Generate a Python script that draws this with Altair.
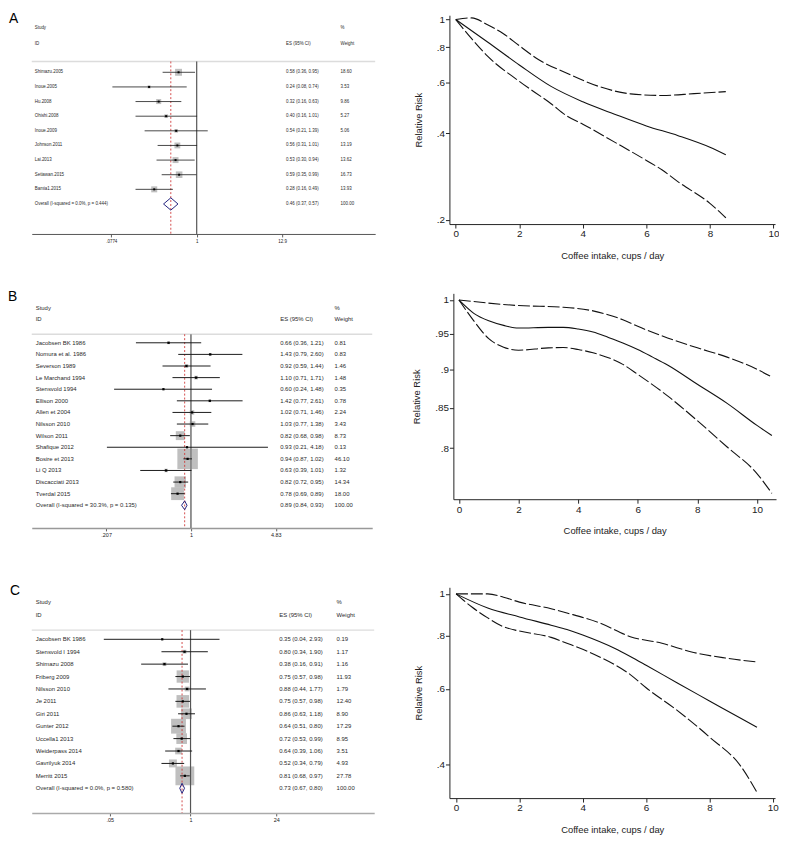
import altair as alt
import pandas as pd

FONT = "Liberation Sans"

# ---------------- Panel A : forest plot ----------------
A_STUDY = ["Shimazu.2005", "Inoue.2005", "Hu.2008", "Ohishi.2008", "Inoue.2009",
           "Johnson.2011", "Lai.2013", "Setiawan.2015", "Bamia1.2015"]
A_ES = [0.58, 0.24, 0.32, 0.40, 0.54, 0.56, 0.53, 0.59, 0.28]
A_LO = [0.36, 0.08, 0.16, 0.16, 0.21, 0.31, 0.30, 0.35, 0.16]
A_HI = [0.95, 0.74, 0.63, 1.01, 1.39, 1.01, 0.94, 0.99, 0.49]
A_WT = [18.60, 3.53, 9.86, 5.27, 5.06, 13.19, 13.62, 16.73, 13.93]
A_OVERALL = [0.46, 0.37, 0.57, 100.00]
A_OVERALL_LABEL = "Overall  (I-squared = 0.0%, p = 0.444)"
A_TICKS = [0.0774, 1, 12.9]

# ---------------- Panel B : forest plot ----------------
B_STUDY = ["Jacobsen BK 1986", "Nomura et al. 1986", "Severson 1989", "Le Marchand 1994",
           "Stensvold 1994", "Ellison 2000", "Allen et 2004", "Nilsson 2010", "Wilson 2011",
           "Shafique 2012", "Bosire et 2013", "Li Q 2013", "Discacciati 2013", "Tverdal 2015"]
B_ES = [0.66, 1.43, 0.92, 1.10, 0.60, 1.42, 1.02, 1.03, 0.82, 0.93, 0.94, 0.63, 0.82, 0.78]
B_LO = [0.36, 0.79, 0.59, 0.71, 0.24, 0.77, 0.71, 0.77, 0.68, 0.21, 0.87, 0.39, 0.72, 0.69]
B_HI = [1.21, 2.60, 1.44, 1.71, 1.48, 2.61, 1.46, 1.38, 0.98, 4.18, 1.02, 1.01, 0.95, 0.89]
B_WT = [0.81, 0.83, 1.46, 1.48, 0.35, 0.78, 2.24, 3.43, 8.73, 0.13, 46.10, 1.32, 14.34, 18.00]
B_OVERALL = [0.89, 0.84, 0.93, 100.00]
B_OVERALL_LABEL = "Overall  (I-squared = 30.3%, p = 0.135)"
B_TICKS = [0.207, 1, 4.83]

# ---------------- Panel C : forest plot ----------------
C_STUDY = ["Jacobsen BK 1986", "Stensvold I 1994", "Shimazu 2008", "Friberg 2009",
           "Nilsson 2010", "Je 2011", "Giri 2011", "Gunter 2012", "Uccella1 2013",
           "Weiderpass 2014", "Gavrilyuk 2014", "Merritt 2015"]
C_ES = [0.35, 0.80, 0.38, 0.75, 0.88, 0.75, 0.86, 0.64, 0.72, 0.64, 0.52, 0.81]
C_LO = [0.04, 0.34, 0.16, 0.57, 0.44, 0.57, 0.63, 0.51, 0.53, 0.39, 0.34, 0.68]
C_HI = [2.93, 1.90, 0.91, 0.98, 1.77, 0.98, 1.18, 0.80, 0.99, 1.06, 0.79, 0.97]
C_WT = [0.19, 1.17, 1.16, 11.93, 1.79, 12.40, 8.90, 17.29, 8.95, 3.51, 4.93, 27.78]
C_OVERALL = [0.73, 0.67, 0.80, 100.00]
C_OVERALL_LABEL = "Overall  (I-squared = 0.0%, p = 0.580)"
C_TICKS = [0.05, 1, 24]

# ---------------- Dose-response curves ----------------
DA_EST_X = [0, 1, 2, 3, 4, 5, 6, 7, 8, 8.5]
DA_EST_Y = [1.0, 0.835, 0.694, 0.584, 0.516, 0.467, 0.425, 0.393, 0.358, 0.337]
DA_HI_X = [0, 0.5, 1, 1.5, 2, 2.6, 3.5, 4.5, 5.5, 6.5, 7.5, 8.5]
DA_HI_Y = [1.0, 1.013, 0.958, 0.892, 0.81, 0.725, 0.649, 0.584, 0.55, 0.543, 0.551, 0.56]
DA_LO_X = [0, 0.5, 1, 2, 3, 3.5, 4, 5, 6, 6.5, 7, 8, 8.5]
DA_LO_Y = [1.0, 0.857, 0.745, 0.608, 0.508, 0.46, 0.431, 0.373, 0.322, 0.298, 0.271, 0.228, 0.203]
DA_YTICKS = [0.2, 0.4, 0.6, 0.8, 1]

DB_EST_X = [0, 0.5, 1, 1.5, 2, 3, 3.5, 4, 4.5, 5, 5.5, 6, 6.5, 7, 8, 9, 10, 10.5]
DB_EST_Y = [1.0, 0.980, 0.969, 0.9624, 0.9586, 0.9595, 0.9595, 0.9571, 0.9528, 0.9453,
            0.9373, 0.9281, 0.9175, 0.9066, 0.8807, 0.8557, 0.8278, 0.8153]
DB_HI_X = [0, 2, 3.5, 4.5, 5, 5.5, 6, 7, 8, 9, 10, 10.5]
DB_HI_Y = [1.0, 0.9916, 0.9891, 0.9837, 0.978, 0.9706, 0.961, 0.9444, 0.9304, 0.9175, 0.9009, 0.8904]
DB_LO_X = [0, 0.5, 1, 1.5, 2, 3, 3.5, 4, 4.5, 5.5, 6, 7, 8, 9, 10, 10.5]
DB_LO_Y = [1.0, 0.969, 0.9434, 0.9313, 0.9271, 0.9304, 0.9308, 0.9281, 0.9235, 0.9075,
           0.894, 0.8655, 0.8337, 0.8013, 0.7699, 0.7473]
DB_YTICKS = [0.8, 0.85, 0.9, 0.95, 1]

DC_EST_X = [0, 1, 2, 3, 3.5, 4, 5, 5.5, 6, 7, 8, 9, 9.5]
DC_EST_Y = [1.0, 0.9266, 0.8833, 0.845, 0.8258, 0.8013, 0.7462, 0.714, 0.681, 0.618, 0.562, 0.511, 0.4877]
DC_HI_X = [0, 1, 1.5, 2, 3, 3.5, 4.5, 5.5, 6.5, 7.5, 8.5, 9.5]
DC_HI_Y = [1.0, 1.0, 0.9824, 0.9566, 0.9233, 0.9023, 0.857, 0.7943, 0.7665, 0.7294, 0.7079, 0.6929]
DC_LO_X = [0, 0.5, 1, 1.5, 2, 3, 3.5, 4.5, 5.5, 6, 7, 8, 9, 9.5]
DC_LO_Y = [1.0, 0.9316, 0.8786, 0.8377, 0.8185, 0.7912, 0.7666, 0.7142, 0.6476, 0.6032, 0.5328, 0.4627, 0.3943, 0.3433]
DC_YTICKS = [0.4, 0.6, 0.8, 1]

DOSE_XTICKS = [0, 2, 4, 6, 8, 10]

LABEL_EXPR = "replace(format(datum.value, '.4~f'), '0.', '.')"


def forest(letter, study, es, lo, hi, wt, overall, overall_label, ticks, cfg):
    n = len(study)
    rows = list(range(1, n + 1))
    orow = n + 1
    W, H = cfg["w"], cfg["h"]
    ytop, ybot, sep = cfg["ytop"], cfg["ybot"], cfg["sep"]
    fs = cfg["fs"]
    ysc = alt.Scale(domain=[ytop, ybot], reverse=True, nice=False, zero=False)
    xsc = alt.Scale(type="log", domain=cfg["xdom"], nice=False)
    xax = alt.Axis(values=ticks, labelExpr=LABEL_EXPR, title=None, grid=False, orient="bottom",
                   domainColor=cfg["axc"], domainWidth=cfg["axw"], tickColor="#333",
                   tickSize=3, tickWidth=0.8, labelFontSize=cfg["tfs"], labelColor="#222",
                   labelPadding=2, labelFlush=False, labelOverlap=False, labelFont=FONT)

    def X(f):
        return alt.X(f"{f}:Q", scale=xsc, axis=xax)

    def Y(f):
        return alt.Y(f"{f}:Q", scale=ysc, axis=None)

    df = pd.DataFrame({"es": es, "lo": lo, "hi": hi, "wt": wt, "row": rows})
    o_es, o_lo, o_hi, o_wt = overall

    sep_l = alt.Chart(pd.DataFrame({"r": [sep]})).mark_rule(
        color="#dcdcdc", strokeWidth=1.5).encode(x=alt.value(0), x2=alt.value(W), y=Y("r"))

    boxes = alt.Chart(df).mark_square(color="#bfbfbf", opacity=1).encode(
        x=X("es"), y=Y("row"),
        size=alt.Size("wt:Q", scale=alt.Scale(domain=[0, 100], range=[0, 100 * cfg["k"]]), legend=None))

    null_l = alt.Chart(pd.DataFrame({"x": [1], "y1": [sep], "y2": [ybot]})).mark_rule(
        color=cfg["nullc"], strokeWidth=cfg["nullw"]).encode(x=X("x"), y=Y("y1"), y2="y2:Q")

    red = alt.Chart(pd.DataFrame({"x": [o_es], "y1": [sep], "y2": [ybot]})).mark_rule(
        color="#d03a3a", strokeDash=[2, 2], strokeWidth=0.9).encode(x=X("x"), y=Y("y1"), y2="y2:Q")

    ci = alt.Chart(df).mark_rule(color="#1a1a1a", strokeWidth=cfg["ciw"]).encode(
        x=X("lo"), x2="hi:Q", y=Y("row"))

    pts = alt.Chart(df).mark_point(shape="square", filled=True, color="#000", size=cfg["pt"], opacity=1).encode(
        x=X("es"), y=Y("row"))

    h = cfg["dh"]
    dia = alt.Chart(pd.DataFrame({
        "x": [o_lo, o_es, o_hi, o_es, o_lo],
        "y": [orow, orow - h, orow, orow + h, orow],
        "o": [0, 1, 2, 3, 4]})).mark_line(color="#23237e", strokeWidth=1).encode(
        x=X("x"), y=Y("y"), order="o:Q")

    col_lab = pd.DataFrame({"r": [cfg["srow"], cfg["irow"]] + rows + [orow],
                            "t": ["Study", "ID"] + list(study) + [overall_label]})
    col_es = pd.DataFrame({"r": [cfg["irow"]] + rows + [orow],
                           "t": ["ES (95% CI)"] + [f"{e:.2f} ({l:.2f}, {u:.2f})" for e, l, u in zip(es, lo, hi)]
                           + [f"{o_es:.2f} ({o_lo:.2f}, {o_hi:.2f})"]})
    col_wt = pd.DataFrame({"r": [cfg["srow"], cfg["irow"]] + rows + [orow],
                           "t": ["%", "Weight"] + [f"{w:.2f}" for w in wt] + [f"{o_wt:.2f}"]})

    def txt(d, xpos):
        return alt.Chart(d).mark_text(align="left", baseline="middle", fontSize=fs, color="#2a2a2a",
                                      font=FONT).encode(x=alt.value(xpos), y=Y("r"), text="t:N")

    let = alt.Chart(pd.DataFrame({"t": [letter]})).mark_text(
        align="left", baseline="top", fontSize=14, color="#000", font=FONT).encode(
        x=alt.value(cfg["lx0"]), y=alt.value(cfg["ly0"]), text="t:N")

    return alt.layer(sep_l, boxes, null_l, red, ci, pts, dia,
                     txt(col_lab, cfg["lx"]), txt(col_es, cfg["esx"]), txt(col_wt, cfg["wtx"]), let
                     ).properties(width=W, height=H)


def dose(curves, xdom, ydom, yticks, W, H):
    xsc = alt.Scale(domain=xdom, nice=False, zero=False)
    ysc = alt.Scale(type="log", domain=ydom, nice=False)
    common = dict(grid=False, domainColor="#222", tickColor="#222", labelColor="#222", titleColor="#222",
                  tickSize=4, labelFontSize=10, titleFontSize=9.5, titleFontWeight="normal",
                  labelFont=FONT, titleFont=FONT, labelPadding=1, labelFlush=False)
    xax = alt.Axis(values=DOSE_XTICKS, title="Coffee intake, cups / day", titlePadding=12, **common)
    yax = alt.Axis(values=yticks, labelExpr=LABEL_EXPR, title="Relative Risk", titlePadding=13, **common)
    layers = []
    for xs, ys, dashed in curves:
        kw = dict(color="#111", strokeWidth=1.1, interpolate="monotone")
        if dashed:
            kw["strokeDash"] = [12, 3]
        layers.append(alt.Chart(pd.DataFrame({"x": xs, "rr": ys})).mark_line(**kw).encode(
            x=alt.X("x:Q", scale=xsc, axis=xax), y=alt.Y("rr:Q", scale=ysc, axis=yax)))
    return alt.layer(*layers).properties(width=W, height=H)


fA = forest("A", A_STUDY, A_ES, A_LO, A_HI, A_WT, A_OVERALL, A_OVERALL_LABEL, A_TICKS, dict(
    w=347, h=221, xdom=[0.00716, 208.9], ytop=-2.9, ybot=12.05, sep=0.26, srow=-2.04, irow=-0.96,
    fs=4.5, tfs=4.5, k=2.65, lx=3, esx=257, wtx=312, lx0=-23, ly0=-3, axc="#555", axw=1,
    nullc="#333", nullw=1, ciw=0.8, pt=4, dh=0.42))
fB = forest("B", B_STUDY, B_ES, B_LO, B_HI, B_WT, B_OVERALL, B_OVERALL_LABEL, B_TICKS, dict(
    w=344, h=237, xdom=[0.052, 28.99], ytop=-3.26, ybot=16.95, sep=0.26, srow=-1.96, irow=-1.02,
    fs=6, tfs=5.5, k=9.3, lx=4, esx=251, wtx=306, lx0=-24, ly0=-3, axc="#999", axw=1.5,
    nullc="#888", nullw=1.8, ciw=1, pt=5, dh=0.38))
fC = forest("C", C_STUDY, C_ES, C_LO, C_HI, C_WT, C_OVERALL, C_OVERALL_LABEL, C_TICKS, dict(
    w=346, h=228, xdom=[0.00276, 912], ytop=-3.19, ybot=14.99, sep=0.26, srow=-2.0, irow=-0.93,
    fs=6, tfs=5.5, k=13, lx=4, esx=250, wtx=308, lx0=-22, ly0=-3, axc="#aaa", axw=1.5,
    nullc="#555", nullw=1.2, ciw=1, pt=5, dh=0.4))

dA = dose([(DA_EST_X, DA_EST_Y, False), (DA_HI_X, DA_HI_Y, True), (DA_LO_X, DA_LO_Y, True)],
          [-0.2, 10.05], [0.193, 1.035], DA_YTICKS, 329, 211)
dB = dose([(DB_EST_X, DB_EST_Y, False), (DB_HI_X, DB_HI_Y, True), (DB_LO_X, DB_LO_Y, True)],
          [-0.186, 10.64], [0.7407, 1.01], DB_YTICKS, 326, 208)
dC = dose([(DC_EST_X, DC_EST_Y, False), (DC_HI_X, DC_HI_Y, True), (DC_LO_X, DC_LO_Y, True)],
          [-0.21, 10.07], [0.333, 1.036], DC_YTICKS, 329, 213)

row1 = alt.hconcat(fA, dA, spacing=37).resolve_scale(size="independent")
row2 = alt.hconcat(fB, dB, spacing=39).resolve_scale(size="independent")
row3 = alt.hconcat(fC, dC, spacing=38).resolve_scale(size="independent")

lower = alt.vconcat(row2, row3, spacing=46).resolve_scale(size="independent")
chart = alt.vconcat(row1, lower, spacing=30).resolve_scale(size="independent").properties(
    padding={"left": 0, "top": 0, "right": 0, "bottom": 0}
).configure(font=FONT).configure_view(stroke=None)

chart.save("out.html", embed_options={"renderer": "svg", "actions": False})
